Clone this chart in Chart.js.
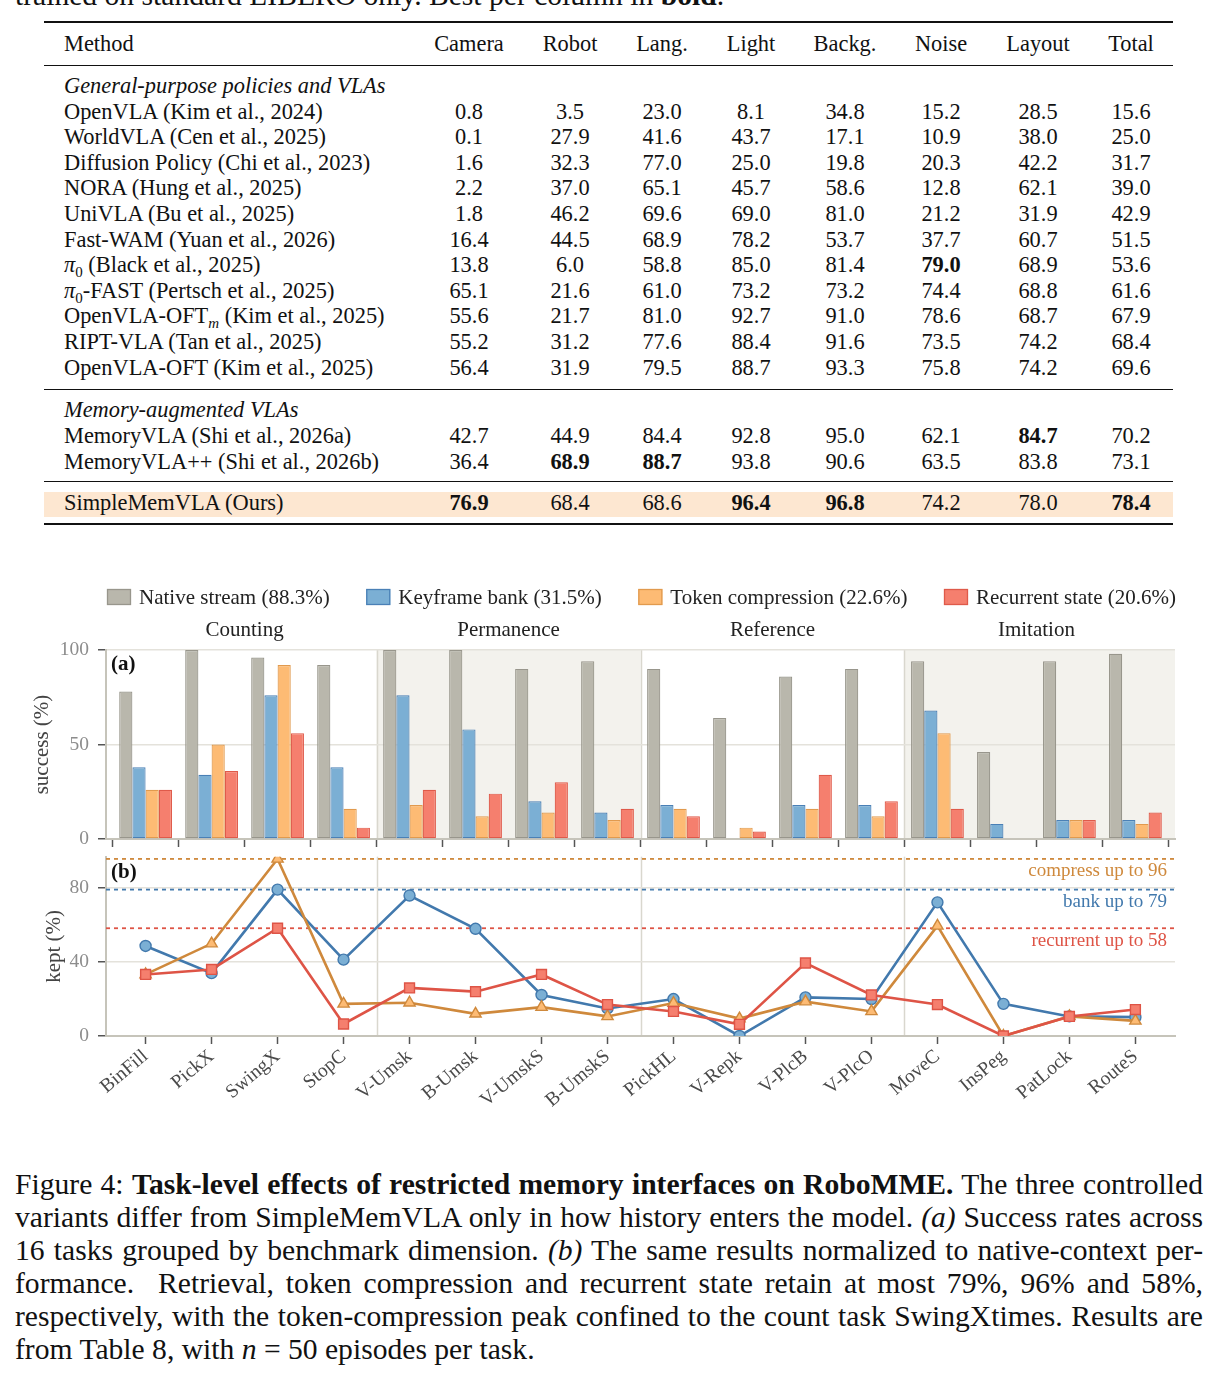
<!DOCTYPE html>
<html><head><meta charset="utf-8">
<script src="https://cdn.jsdelivr.net/npm/chart.js@4.4.1/dist/chart.umd.min.js"></script>
<style>
html,body{margin:0;padding:0;background:#fff;}
body{width:1219px;height:1380px;position:relative;overflow:hidden;font-family:'Liberation Serif','Times New Roman',serif;color:#111;}
.rule{position:absolute;left:44px;width:1129px;background:#111;}
.cell{position:absolute;height:26px;line-height:26px;font-size:22.4px;white-space:nowrap;}
.num{width:120px;text-align:center;}
.sub{font-size:15px;position:relative;top:5px;}
.cap{position:absolute;left:15px;width:1188px;font-size:29.6px;line-height:33px;white-space:nowrap;text-align:left;}
canvas{position:absolute;left:0;}
</style></head>
<body>
<div class="cap" style="top:-21.5px;">trained on standard LIBERO only. Best per column in <b>bold</b>.</div>
<div id="table"></div>
<canvas id="ca" width="1219" height="294" style="top:575px"></canvas>
<canvas id="cb" width="1219" height="280" style="top:836px"></canvas>
<div id="caption"></div>
<script>
// ---------------- DATA ----------------
const tableCols = ['Camera','Robot','Lang.','Light','Backg.','Noise','Layout','Total'];
const groupGeneral = 'General-purpose policies and VLAs';
const groupMemory = 'Memory-augmented VLAs';
const methodsGeneral = [
  'OpenVLA (Kim et al., 2024)',
  'WorldVLA (Cen et al., 2025)',
  'Diffusion Policy (Chi et al., 2023)',
  'NORA (Hung et al., 2025)',
  'UniVLA (Bu et al., 2025)',
  'Fast-WAM (Yuan et al., 2026)',
  '<i>π</i><span class="sub">0</span> (Black et al., 2025)',
  '<i>π</i><span class="sub">0</span>-FAST (Pertsch et al., 2025)',
  'OpenVLA-OFT<span class="sub"><i>m</i></span> (Kim et al., 2025)',
  'RIPT-VLA (Tan et al., 2025)',
  'OpenVLA-OFT (Kim et al., 2025)'
];
const valsGeneral = [
  [0.8,3.5,23.0,8.1,34.8,15.2,28.5,15.6],
  [0.1,27.9,41.6,43.7,17.1,10.9,38.0,25.0],
  [1.6,32.3,77.0,25.0,19.8,20.3,42.2,31.7],
  [2.2,37.0,65.1,45.7,58.6,12.8,62.1,39.0],
  [1.8,46.2,69.6,69.0,81.0,21.2,31.9,42.9],
  [16.4,44.5,68.9,78.2,53.7,37.7,60.7,51.5],
  [13.8,6.0,58.8,85.0,81.4,79.0,68.9,53.6],
  [65.1,21.6,61.0,73.2,73.2,74.4,68.8,61.6],
  [55.6,21.7,81.0,92.7,91.0,78.6,68.7,67.9],
  [55.2,31.2,77.6,88.4,91.6,73.5,74.2,68.4],
  [56.4,31.9,79.5,88.7,93.3,75.8,74.2,69.6]
];
const methodsMemory = ['MemoryVLA (Shi et al., 2026a)','MemoryVLA++ (Shi et al., 2026b)'];
const valsMemory = [
  [42.7,44.9,84.4,92.8,95.0,62.1,84.7,70.2],
  [36.4,68.9,88.7,93.8,90.6,63.5,83.8,73.1]
];
const methodOurs = 'SimpleMemVLA (Ours)';
const valsOurs = [76.9,68.4,68.6,96.4,96.8,74.2,78.0,78.4];
const boldCells = ['g6-5','m0-6','m1-1','m1-2','o0-0','o0-3','o0-4','o0-7'];

const tasks = ['BinFill','PickX','SwingX','StopC','V-Umsk','B-Umsk','V-UmskS','B-UmskS','PickHL','V-Repk','V-PlcB','V-PlcO','MoveC','InsPeg','PatLock','RouteS'];
const groupNames = ['Counting','Permanence','Reference','Imitation'];
const groupStarts = [0,4,8,12];
const seriesLabels = ['Native stream (88.3%)','Keyframe bank (31.5%)','Token compression (22.6%)','Recurrent state (20.6%)'];
const nativeSuccess    = [78,100,96,92,100,100,90,94,90,64,86,90,94,46,94,98];
const bankSuccess      = [38,34,76,38,76,58,20,14,18,0,18,18,68,8,10,10];
const compressSuccess  = [26,50,92,16,18,12,14,10,16,6,16,12,56,0,10,8];
const recurrentSuccess = [26,36,56,6,26,24,30,16,12,4,34,20,16,0,10,14];
const bankKept      = [48.7,34,79.2,41.3,76,58,22.2,14.9,20,0,20.9,20,72.3,17.4,10.6,10.2];
const compressKept  = [33.3,50,95.8,17.4,18,12,15.6,10.6,17.8,9.4,18.6,13.3,59.6,0,10.6,8.2];
const recurrentKept = [33.3,36,58.3,6.5,26,24,33.3,17,13.3,6.3,39.5,22.2,17,0,10.6,14.3];
const peakKept = [95.8,79.2,58.3];
const peakLabels = ['compress up to 96','bank up to 79','recurrent up to 58'];
const yTicksA = [0,50,100];
const yTicksB = [0,40,80];

const captionLines = [
  'Figure 4: <b>Task-level effects of restricted memory interfaces on RoboMME.</b> The three controlled',
  'variants differ from SimpleMemVLA only in how history enters the model. <i>(a)</i> Success rates across',
  '16 tasks grouped by benchmark dimension. <i>(b)</i> The same results normalized to native-context per-',
  'formance.&nbsp; Retrieval, token compression and recurrent state retain at most 79%, 96% and 58%,',
  'respectively, with the token-compression peak confined to the count task SwingXtimes. Results are',
  'from Table 8, with <i>n</i> = 50 episodes per task.'
];

// ---------------- TABLE (layout) ----------------
const colCenters = [469,570,662,751,845,941,1038,1131];
const T = document.getElementById('table');
function addEl(html, cls, left, top, extra){
  const d = document.createElement('div');
  d.className = cls; d.innerHTML = html;
  d.style.left = left+'px'; d.style.top = top+'px';
  if (extra) Object.assign(d.style, extra);
  T.appendChild(d); return d;
}
function rule(y,h){ const d=document.createElement('div'); d.className='rule'; d.style.top=y+'px'; d.style.height=h+'px'; T.appendChild(d); }
const hl = document.createElement('div');
Object.assign(hl.style,{position:'absolute',left:'44px',width:'1129px',top:'492px',height:'25px',background:'#fde7d1'});
T.appendChild(hl);
rule(21,2); rule(64.5,1.2); rule(389,1.3); rule(481,1.3); rule(523,2.2);
function row(name, vals, yc, key, italic){
  addEl(name,'cell',64,yc-13, italic?{fontStyle:'italic'}:null);
  if (!vals) return;
  vals.forEach((v,j)=>{
    const txt = typeof v === 'number' ? v.toFixed(1) : v;
    const b = key && boldCells.includes(key+'-'+j);
    addEl(b?'<b>'+txt+'</b>':txt,'cell num',colCenters[j]-60,yc-13);
  });
}
row('Method', tableCols, 44, null);
row(groupGeneral, null, 86, null, true);
methodsGeneral.forEach((m,i)=>row(m, valsGeneral[i], 111.5+i*25.6, 'g'+i));
row(groupMemory, null, 410, null, true);
methodsMemory.forEach((m,i)=>row(m, valsMemory[i], 436+i*25.5, 'm'+i));
row(methodOurs, valsOurs, 502.5, 'o0');

// ---------------- CAPTION (each line fitted to the text width) ----------------
const CP = document.getElementById('caption');
captionLines.forEach((l,i)=>{
  const d=document.createElement('div'); d.className='cap';
  const s=document.createElement('span'); s.innerHTML=l; d.appendChild(s);
  d.style.top=(1184-16.5+i*33)+'px';
  CP.appendChild(d);
  if (i < captionLines.length-1){
    const w = s.getBoundingClientRect().width;
    const n = (s.textContent.match(/[ \u00a0]/g)||[]).length;
    if (n>0) d.style.wordSpacing = ((1188 - w)/n).toFixed(3)+'px';
  }
});

// ---------------- CHARTS ----------------
const serif = "'Liberation Serif','Times New Roman',serif";
Chart.defaults.font.family = serif;
const COL = {
  native:{fill:'#b9b7ac', line:'#98968c'},
  bank:{fill:'#7bafd4', line:'#4a80b6', dark:'#4279ad'},
  compress:{fill:'#fdbb74', line:'#e19a4e', dark:'#cf893c'},
  recurrent:{fill:'#f57f6e', line:'#df5a4a', dark:'#de5446'}
};
const AXIS = '#c6c4ba', GRID = '#e4e2db', TICK = '#555', SHADE = '#f3f2ed', SEP = '#d9d7ce';
const pts = arr => arr.map((v,i)=>({x:i,y:v}));

function xScale(showLabels){
  return {
    type:'linear', min:-0.6, max:15.6, offset:false,
    afterBuildTicks: s => { s.ticks = tasks.map((_,i)=>({value:i})); },
    ticks:{display:showLabels, autoSkip:false, maxRotation:40, minRotation:40, padding:1, color:'#4a4a4a',
      font:{family:serif,size:19.5}, callback:v=>tasks[v]},
    grid:{display:true, drawOnChartArea:false, drawTicks:true, tickLength:8, tickColor:TICK, tickWidth:1.5},
    border:{display:true, color:AXIS, width:2},
    afterFit: s => { s.height = showLabels ? 80 : 30; }
  };
}
function yScale(max, ticks, title, titlePad){
  return {
    min:0, max:max,
    afterBuildTicks: s => { s.ticks = ticks.map(v=>({value:v})); },
    ticks:{color:'#8c8c8c', font:{family:serif,size:19.5}, padding:9},
    grid:{color:GRID, lineWidth:1.5, tickColor:TICK, tickLength:8, tickWidth:1.5},
    border:{color:AXIS, width:2},
    title:{display:true, text:title, color:'#444', font:{family:serif,size:21}, padding:{top:titlePad,bottom:0}},
    afterFit: s => { s.width = 106; }
  };
}
function separators(chart, shade){
  const {ctx, chartArea:a, scales:{x}} = chart;
  ctx.save();
  if (shade){
    ctx.fillStyle = SHADE;
    groupStarts.forEach((g,k)=>{
      if (k%2===1){
        const l = Math.max(a.left, x.getPixelForValue(g-0.5));
        const r = k+1<groupStarts.length ? x.getPixelForValue(groupStarts[k+1]-0.5) : a.right;
        ctx.fillRect(l, a.top, r-l, a.bottom-a.top);
      }
    });
  }
  ctx.strokeStyle = SEP; ctx.lineWidth = 1.5;
  groupStarts.slice(1).forEach(g=>{
    const px = Math.round(x.getPixelForValue(g-0.5))+0.5;
    ctx.beginPath(); ctx.moveTo(px,a.top); ctx.lineTo(px,a.bottom); ctx.stroke();
  });
  ctx.restore();
}
function panelLabel(chart, txt, dy){
  const {ctx, chartArea:a} = chart;
  ctx.save(); ctx.font = 'bold 21px '+serif; ctx.fillStyle='#111';
  ctx.textBaseline='middle'; ctx.textAlign='left';
  ctx.fillText(txt, a.left+5, a.top+dy); ctx.restore();
}

const pluginA = {
  id:'decorA',
  beforeDraw(chart){ separators(chart, true); },
  afterDraw(chart){
    const {ctx, chartArea:a, scales:{x}} = chart;
    ctx.save();
    ctx.font = '21px '+serif; ctx.fillStyle = '#222'; ctx.textAlign='center'; ctx.textBaseline='middle';
    groupStarts.forEach((g,k)=>{
      const cx = (x.getPixelForValue(g)+x.getPixelForValue(g+3))/2;
      ctx.fillText(groupNames[k], cx, a.top-20);
    });
    const ds = chart.data.datasets;
    ctx.font = '21px '+serif; ctx.textAlign='left';
    const widths = ds.map(d=>ctx.measureText(d.label).width);
    const itemW = widths.map(w=>24+8+w);
    const total = itemW.reduce((s,v)=>s+v,0);
    const gap = (a.right - a.left - total)/(ds.length-1);
    let px = a.left+1; const yc = 22;
    ds.forEach((d,i)=>{
      ctx.fillStyle = d.backgroundColor; ctx.fillRect(px, yc-8, 24, 16);
      ctx.strokeStyle = d.borderColor; ctx.lineWidth = 1.3; ctx.strokeRect(px+0.5, yc-7.5, 23, 15);
      ctx.fillStyle = '#222'; ctx.fillText(d.label, px+32, yc+1);
      px += itemW[i] + gap;
    });
    ctx.restore();
    panelLabel(chart,'(a)',15);
  }
};

const barDS = (label, data, c) => ({label, data:pts(data), backgroundColor:c.fill, borderColor:c.line, borderWidth:1.2, borderSkipped:false});
new Chart(document.getElementById('ca'), {
  type:'bar',
  data:{datasets:[
    barDS(seriesLabels[0], nativeSuccess, COL.native),
    barDS(seriesLabels[1], bankSuccess, COL.bank),
    barDS(seriesLabels[2], compressSuccess, COL.compress),
    barDS(seriesLabels[3], recurrentSuccess, COL.recurrent)
  ]},
  options:{
    responsive:false, animation:false, devicePixelRatio:1,
    layout:{padding:{top:75,left:0,right:44,bottom:0}},
    datasets:{bar:{categoryPercentage:0.8, barPercentage:1.0}},
    plugins:{legend:{display:false}, tooltip:{enabled:false}},
    scales:{x:xScale(false), y:yScale(100, yTicksA, 'success (%)', 30)}
  },
  plugins:[pluginA]
});

const pluginB = {
  id:'decorB',
  beforeDraw(chart){ separators(chart, false); },
  afterDraw(chart){
    const {ctx, chartArea:a, scales:{y}} = chart;
    ctx.save();
    ctx.font = '19px '+serif; ctx.textAlign='right'; ctx.textBaseline='middle';
    const cols = [COL.compress.dark, COL.bank.dark, COL.recurrent.dark];
    peakKept.forEach((p,i)=>{
      ctx.fillStyle = cols[i];
      ctx.fillText(peakLabels[i], a.right-8, y.getPixelForValue(p)+12.5);
    });
    ctx.restore();
    panelLabel(chart,'(b)',16);
  }
};
const dashDS = (v, color) => ({data:[{x:-0.6,y:v},{x:15.6,y:v}], borderColor:color, borderWidth:1.8, borderDash:[4,4], pointRadius:0, order:10, clip:false});
const lineDS = (data, c, style, r, order) => ({data:pts(data), borderColor:c.dark, borderWidth:2.6, pointStyle:style, pointRadius:r,
  pointBackgroundColor:c.fill, pointBorderColor:c.dark, pointBorderWidth:1.4, tension:0, order});
new Chart(document.getElementById('cb'), {
  type:'line',
  data:{datasets:[
    dashDS(peakKept[0], COL.compress.dark),
    dashDS(peakKept[1], COL.bank.dark),
    dashDS(peakKept[2], COL.recurrent.dark),
    lineDS(bankKept, COL.bank, 'circle', 5.5, 3),
    lineDS(compressKept, COL.compress, 'triangle', 6.5, 2),
    lineDS(recurrentKept, COL.recurrent, 'rect', 7, 1)
  ]},
  options:{
    responsive:false, animation:false, devicePixelRatio:1,
    layout:{padding:{top:0,left:0,right:44,bottom:0}},
    plugins:{legend:{display:false}, tooltip:{enabled:false}},
    scales:{x:xScale(true), y:yScale(97, yTicksB, 'kept (%)', 42)}
  },
  plugins:[pluginB]
});
</script>
</body></html>
